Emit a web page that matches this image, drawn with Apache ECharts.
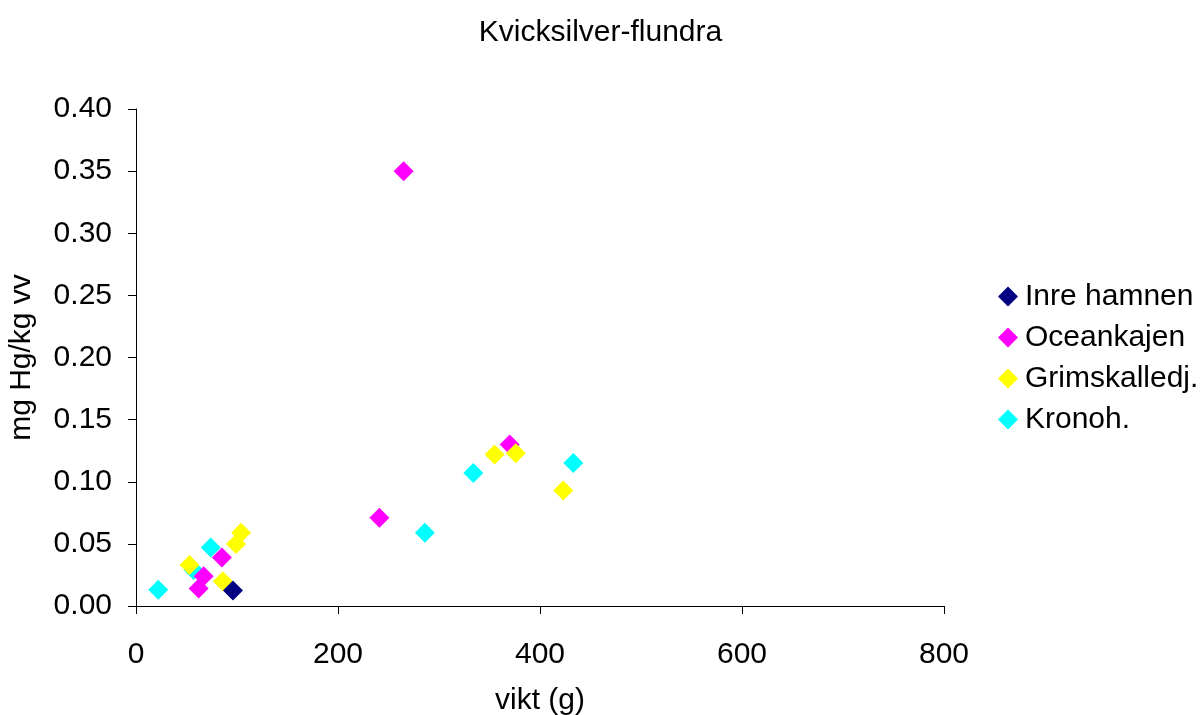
<!DOCTYPE html>
<html>
<head>
<meta charset="utf-8">
<script src="https://cdn.jsdelivr.net/npm/echarts@6/dist/echarts.min.js"></script>
<style>html,body{margin:0;padding:0;background:#fff;}#c{width:1201px;height:715px;}</style>
</head>
<body>
<div id="c"></div>
<script>
const titleText = 'Kvicksilver-flundra';
const xName = 'vikt (g)';
const yName = 'mg Hg/kg vv';
const seriesNames = ['Inre hamnen', 'Oceankajen', 'Grimskalledj.', 'Kronoh.'];
const inreHamnen = [[96, 0.0125]];
const oceankajen = [[62, 0.014], [67, 0.024], [85, 0.039], [241, 0.071], [265, 0.350], [370, 0.130]];
const grimskalledj = [[53, 0.033], [86, 0.020], [99, 0.050], [104, 0.059], [355, 0.122], [376, 0.123], [423, 0.093]];
const kronoh = [[22, 0.013], [57, 0.029], [74, 0.047], [286, 0.059], [334, 0.107], [433, 0.115]];
const xTicks = [0, 200, 400, 600, 800];
const yTicks = [0, 0.05, 0.10, 0.15, 0.20, 0.25, 0.30, 0.35, 0.40];

const colors = {'Inre hamnen':'#000080','Oceankajen':'#FF00FF','Grimskalledj.':'#FFFF00','Kronoh.':'#00FFFF'};
const dataMap = {'Inre hamnen':inreHamnen,'Oceankajen':oceankajen,'Grimskalledj.':grimskalledj,'Kronoh.':kronoh};
const zMap = {'Kronoh.':1,'Oceankajen':2,'Grimskalledj.':3,'Inre hamnen':4};
const font = 'Liberation Sans, Arial, sans-serif';

const chart = echarts.init(document.getElementById('c'), null, {renderer:'canvas'});
chart.setOption({
  animation: false,
  backgroundColor: '#fff',
  title: {text: titleText, left: 'center', top: 13,
    textStyle: {fontFamily: font, fontSize: 30, fontWeight: 'normal', color: '#000'}},
  legend: {
    orient: 'vertical', left: 993, top: 276,
    itemWidth: 20, itemHeight: 20, itemGap: 10, icon: 'diamond',
    data: seriesNames,
    textStyle: {fontFamily: font, fontSize: 30, color: '#000', lineHeight: 31, padding: [0,0,0,2]}
  },
  grid: {left: 136, right: 257, top: 109, bottom: 109, containLabel: false, outerBoundsMode: 'none'},
  xAxis: {
    type: 'value', min: xTicks[0], max: xTicks[xTicks.length-1], interval: xTicks[1]-xTicks[0],
    name: xName, nameLocation: 'middle', nameGap: 80,
    nameTextStyle: {fontFamily: font, fontSize: 30, color: '#000'},
    axisLine: {show: true, lineStyle: {color: '#000', width: 1}},
    axisTick: {show: true, length: 8, lineStyle: {color: '#000'}},
    axisLabel: {fontFamily: font, fontSize: 30, color: '#000', margin: 34},
    splitLine: {show: false}
  },
  yAxis: {
    type: 'value', min: yTicks[0], max: yTicks[yTicks.length-1], interval: 0.05,
    name: yName, nameLocation: 'middle', nameGap: 99, nameRotate: 90,
    nameTextStyle: {fontFamily: font, fontSize: 30, color: '#000'},
    axisLine: {show: true, lineStyle: {color: '#000', width: 1}},
    axisTick: {show: true, length: 8, lineStyle: {color: '#000'}},
    axisLabel: {fontFamily: font, fontSize: 30, color: '#000', margin: 24,
      formatter: v => v.toFixed(2)},
    splitLine: {show: false}
  },
  series: seriesNames.map(n => ({
    name: n, type: 'scatter', symbol: 'diamond', symbolSize: 20, z: zMap[n],
    itemStyle: {color: colors[n], opacity: 1},
    data: dataMap[n]
  }))
});
</script>
</body>
</html>
